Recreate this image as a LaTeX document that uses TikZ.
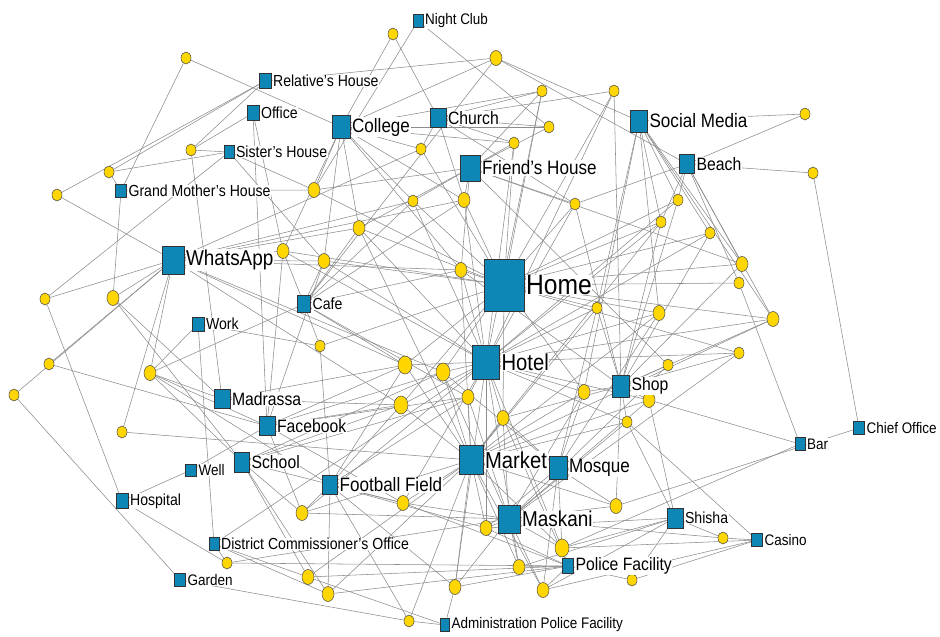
\documentclass[tikz,border=0pt]{standalone}
\usepackage{fontspec}
\setmainfont{Liberation Sans}[FakeStretch=0.88]
\usetikzlibrary{shapes.geometric,backgrounds}
\definecolor{placeblue}{RGB}{14,134,182}
\definecolor{persyellow}{RGB}{255,214,0}
\definecolor{linkgray}{RGB}{140,140,140}
\tikzset{
  place/.style 2 args = {draw=black!80, fill=placeblue, rectangle, inner sep=0pt,
                   line width=0.6pt, minimum width=#1, minimum height=#2},
  pers/.style     = {draw=black!70, fill=persyellow, ellipse, inner sep=0pt,
                   line width=0.5pt, minimum width=10pt, minimum height=12pt},
  pers big/.style  = {pers, minimum width=12pt, minimum height=15pt},
  pers huge/.style = {pers, minimum width=14pt, minimum height=18pt},
  link/.style     = {draw=linkgray, line width=0.55pt},
  lbl/.style      = {fill=white, inner sep=0.6pt, text=black},
  lbl huge/.style = {lbl, font=\fontsize{28}{30}\selectfont},
  lbl xl/.style   = {lbl, font=\fontsize{23}{25}\selectfont},
  lbl l/.style    = {lbl, font=\fontsize{21.5}{23}\selectfont},
  lbl ml/.style   = {lbl, font=\fontsize{19.4}{21}\selectfont},
  lbl m/.style    = {lbl, font=\fontsize{17.9}{19}\selectfont},
  lbl s/.style    = {lbl, font=\fontsize{16}{17}\selectfont},
  lbl xs/.style   = {lbl, font=\fontsize{15.3}{16}\selectfont}
}

\begin{document}
\begin{tikzpicture}[x=1pt, y=-1pt, label distance=1pt]
\useasboundingbox (0,0) rectangle (940,637);

% the persons (yellow)
\node[pers] (p1) at (186,58) {};
\node[pers] (p2) at (191,150) {};
\node[pers] (p3) at (109,172) {};
\node[pers] (p4) at (57,195) {};
\node[pers big] (p5) at (314,190) {};
\node[pers] (p6) at (393,34) {};
\node[pers big] (p7) at (496,58) {};
\node[pers] (p8) at (542,91) {};
\node[pers] (p9) at (614,91) {};
\node[pers] (p10) at (549,127) {};
\node[pers] (p11) at (514,143) {};
\node[pers] (p12) at (421,149) {};
\node[pers] (p13) at (413,201) {};
\node[pers big] (p14) at (464,200) {};
\node[pers] (p15) at (575,204) {};
\node[pers] (p16) at (805,114) {};
\node[pers] (p17) at (813,173) {};
\node[pers] (p18) at (678,200) {};
\node[pers big] (p19) at (283,251) {};
\node[pers] (p20) at (45,299) {};
\node[pers big] (p21) at (113,298) {};
\node[pers] (p22) at (49,364) {};
\node[pers] (p23) at (14,395) {};
\node[pers big] (p24) at (150,373) {};
\node[pers] (p25) at (320,346) {};
\node[pers big] (p26) at (359,228) {};
\node[pers big] (p27) at (324,261) {};
\node[pers big] (p28) at (461,270) {};
\node[pers] (p29) at (597,308) {};
\node[pers huge] (p30) at (405,365) {};
\node[pers huge] (p31) at (443,372) {};
\node[pers big] (p32) at (468,397) {};
\node[pers huge] (p33) at (401,405) {};
\node[pers big] (p34) at (503,418) {};
\node[pers big] (p35) at (584,392) {};
\node[pers] (p36) at (661,222) {};
\node[pers] (p37) at (710,233) {};
\node[pers big] (p38) at (742,264) {};
\node[pers] (p39) at (739,283) {};
\node[pers big] (p40) at (773,319) {};
\node[pers big] (p41) at (659,313) {};
\node[pers] (p42) at (739,353) {};
\node[pers] (p43) at (668,365) {};
\node[pers big] (p44) at (649,400) {};
\node[pers] (p45) at (627,422) {};
\node[pers] (p46) at (122,432) {};
\node[pers big] (p47) at (302,513) {};
\node[pers] (p48) at (227,563) {};
\node[pers big] (p49) at (308,577) {};
\node[pers big] (p50) at (403,503) {};
\node[pers big] (p51) at (486,528) {};
\node[pers huge] (p52) at (562,548) {};
\node[pers big] (p53) at (519,567) {};
\node[pers big] (p54) at (616,506) {};
\node[pers big] (p55) at (328,594) {};
\node[pers big] (p56) at (455,587) {};
\node[pers big] (p57) at (543,590) {};
\node[pers] (p58) at (409,621) {};
\node[pers] (p59) at (723,538) {};
\node[pers] (p60) at (632,580) {};

% the places (blue), labels on the right
\node[place={10pt}{13pt}, label={[lbl xs]right:Night Club}] (night) at (418,21) {};
\node[place={12pt}{15pt}, label={[lbl s]right:Relative's House}] (relative) at (265,81) {};
\node[place={12pt}{15pt}, label={[lbl s]right:Office}] (office) at (253,113) {};
\node[place={10pt}{13pt}, label={[lbl s]right:Sister's House}] (sister) at (229,152) {};
\node[place={11pt}{13pt}, label={[lbl s]right:Grand Mother's House}] (grandma) at (121,191) {};
\node[place={18pt}{23pt}, label={[lbl ml]right:College}] (college) at (341,127) {};
\node[place={16pt}{19pt}, label={[lbl m]right:Church}] (church) at (438,118) {};
\node[place={20pt}{26pt}, label={[lbl ml]right:Friend's House}] (friends) at (470,168) {};
\node[place={17pt}{22pt}, label={[lbl ml]right:Social Media}] (social) at (639,121) {};
\node[place={15pt}{19pt}, label={[lbl m]right:Beach}] (beach) at (687,164) {};
\node[place={22pt}{28pt}, label={[lbl l]right:WhatsApp}] (whatsapp) at (173,260) {};
\node[place={40pt}{52pt}, label={[lbl huge]right:Home}] (home) at (504,285) {};
\node[place={13pt}{17pt}, label={[lbl s]right:Cafe}] (cafe) at (304,304) {};
\node[place={12pt}{14pt}, label={[lbl s]right:Work}] (work) at (198,324) {};
\node[place={27pt}{34pt}, label={[lbl xl]right:Hotel}] (hotel) at (486,362) {};
\node[place={17pt}{22pt}, label={[lbl m]right:Shop}] (shop) at (621,386) {};
\node[place={16pt}{19pt}, label={[lbl m]right:Madrassa}] (madrassa) at (222,399) {};
\node[place={16pt}{19pt}, label={[lbl m]right:Facebook}] (facebook) at (267,426) {};
\node[place={15pt}{20pt}, label={[lbl m]right:School}] (school) at (242,462) {};
\node[place={11pt}{12pt}, label={[lbl xs]right:Well}] (well) at (191,470) {};
\node[place={12pt}{15pt}, label={[lbl s]right:Hospital}] (hospital) at (122,501) {};
\node[place={24pt}{29pt}, label={[lbl xl]right:Market}] (market) at (471,460) {};
\node[place={18pt}{23pt}, label={[lbl ml]right:Mosque}] (mosque) at (558,468) {};
\node[place={15pt}{19pt}, label={[lbl ml]right:Football Field}] (football) at (330,485) {};
\node[place={22pt}{28pt}, label={[lbl l]right:Maskani}] (maskani) at (509,519) {};
\node[place={16pt}{20pt}, label={[lbl s]right:Shisha}] (shisha) at (675,518) {};
\node[place={11pt}{13pt}, label={[lbl xs]right:Casino}] (casino) at (757,540) {};
\node[place={11pt}{15pt}, label={[lbl m]right:Police Facility}] (police) at (568,566) {};
\node[place={10pt}{13pt}, label={[lbl s]right:District Commissioner's Office}] (district) at (214,544) {};
\node[place={11pt}{13pt}, label={[lbl xs]right:Garden}] (garden) at (180,580) {};
\node[place={9pt}{13pt}, label={[lbl xs]right:Administration Police Facility}] (admin) at (445,625) {};
\node[place={10pt}{13pt}, label={[lbl xs]right:Bar}] (bar) at (800,444) {};
\node[place={11pt}{13pt}, label={[lbl xs]right:Chief Office}] (chief) at (859,428) {};

% ties from every person to the places it goes to
\begin{scope}[on background layer]
\foreach \t in {grandma,college} \draw[link] (p1) -- (\t);
\foreach \t in {relative,sister,madrassa,office} \draw[link] (p2) -- (\t);
\foreach \t in {relative,sister,grandma} \draw[link] (p3) -- (\t);
\foreach \t in {relative,whatsapp} \draw[link] (p4) -- (\t);
\foreach \t in {grandma,sister,college,home,friends,night} \draw[link] (p5) -- (\t);
\foreach \t in {college,church} \draw[link] (p6) -- (\t);
\foreach \t in {relative,college,cafe,beach,social} \draw[link] (p7) -- (\t);
\foreach \t in {church,friends,home,college,hotel} \draw[link] (p8) -- (\t);
\foreach \t in {church,shop,home,hotel} \draw[link] (p9) -- (\t);
\foreach \t in {church,college,friends,night} \draw[link] (p10) -- (\t);
\foreach \t in {college,church,friends,home,hotel} \draw[link] (p11) -- (\t);
\foreach \t in {church,college,home,whatsapp} \draw[link] (p12) -- (\t);
\foreach \t in {college,friends,home,whatsapp,hotel,cafe} \draw[link] (p13) -- (\t);
\foreach \t in {friends,home,college,church,whatsapp,hotel,cafe} \draw[link] (p14) -- (\t);
\foreach \t in {friends,church,home,beach,hotel,shop} \draw[link] (p15) -- (\t);
\foreach \t in {social,beach} \draw[link] (p16) -- (\t);
\foreach \t in {beach,chief} \draw[link] (p17) -- (\t);
\foreach \t in {beach,social,home,shop,hotel} \draw[link] (p18) -- (\t);
\foreach \t in {office,whatsapp,home,cafe,hotel,college,facebook} \draw[link] (p19) -- (\t);
\foreach \t in {whatsapp,sister,hospital} \draw[link] (p20) -- (\t);
\foreach \t in {grandma,whatsapp,school,madrassa} \draw[link] (p21) -- (\t);
\foreach \t in {whatsapp,facebook} \draw[link] (p22) -- (\t);
\foreach \t in {whatsapp,garden} \draw[link] (p23) -- (\t);
\foreach \t in {whatsapp,work,cafe,facebook,school,football,madrassa} \draw[link] (p24) -- (\t);
\foreach \t in {work,cafe,football,home} \draw[link] (p25) -- (\t);
\foreach \t in {college,home,hotel,whatsapp,friends,cafe,market} \draw[link] (p26) -- (\t);
\foreach \t in {whatsapp,home,college,hotel,sister,cafe,facebook} \draw[link] (p27) -- (\t);
\foreach \t in {home,friends,college,whatsapp,hotel,cafe,market,shop} \draw[link] (p28) -- (\t);
\foreach \t in {home,social,shop,hotel,market,mosque} \draw[link] (p29) -- (\t);
\foreach \t in {hotel,home,cafe,facebook,madrassa,market,whatsapp,football} \draw[link] (p30) -- (\t);
\foreach \t in {hotel,home,whatsapp,facebook,market,mosque,school,maskani} \draw[link] (p31) -- (\t);
\foreach \t in {hotel,market,cafe,school,facebook,football,maskani} \draw[link] (p32) -- (\t);
\foreach \t in {hotel,facebook,madrassa,market,football,home,school,whatsapp} \draw[link] (p33) -- (\t);
\foreach \t in {hotel,market,home,maskani,shop,mosque,police} \draw[link] (p34) -- (\t);
\foreach \t in {hotel,shop,home,mosque,market,maskani,social} \draw[link] (p35) -- (\t);
\foreach \t in {social,home,shop,beach,hotel,market} \draw[link] (p36) -- (\t);
\foreach \t in {home,social,shop,hotel} \draw[link] (p37) -- (\t);
\foreach \t in {beach,social,friends,shop,home} \draw[link] (p38) -- (\t);
\foreach \t in {home,bar,beach} \draw[link] (p39) -- (\t);
\foreach \t in {beach,shop,market,social,home,hotel} \draw[link] (p40) -- (\t);
\foreach \t in {social,home,mosque,hotel,market} \draw[link] (p41) -- (\t);
\foreach \t in {home,shop,hotel,maskani} \draw[link] (p42) -- (\t);
\foreach \t in {friends,shop,maskani} \draw[link] (p43) -- (\t);
\foreach \t in {shop,bar,hotel,shisha,maskani,market} \draw[link] (p44) -- (\t);
\foreach \t in {shisha,casino,hotel,market,shop,maskani} \draw[link] (p45) -- (\t);
\foreach \t in {whatsapp,market} \draw[link] (p46) -- (\t);
\foreach \t in {school,market,maskani,facebook,football,hotel} \draw[link] (p47) -- (\t);
\foreach \t in {maskani,police,district,hospital} \draw[link] (p48) -- (\t);
\foreach \t in {district,market,police,school,admin} \draw[link] (p49) -- (\t);
\foreach \t in {football,market,facebook,maskani,hotel,school,police} \draw[link] (p50) -- (\t);
\foreach \t in {maskani,market,hotel,football,shisha,mosque,police} \draw[link] (p51) -- (\t);
\foreach \t in {maskani,bar,shisha,police,market,hotel,mosque,casino} \draw[link] (p52) -- (\t);
\foreach \t in {maskani,market,police,shisha,hotel} \draw[link] (p53) -- (\t);
\foreach \t in {mosque,market,maskani,chief,shop} \draw[link] (p54) -- (\t);
\foreach \t in {district,market,football,police,school} \draw[link] (p55) -- (\t);
\foreach \t in {market,maskani,police,football,hotel,admin} \draw[link] (p56) -- (\t);
\foreach \t in {maskani,market,police,shisha,mosque,casino} \draw[link] (p57) -- (\t);
\foreach \t in {garden,admin,market,football} \draw[link] (p58) -- (\t);
\foreach \t in {maskani,shisha,casino} \draw[link] (p59) -- (\t);
\foreach \t in {police,shisha,casino} \draw[link] (p60) -- (\t);
% a few ties between places
\draw[link] (well) -- (hospital);
\draw[link] (well) -- (facebook);
\draw[link] (district) -- (work);
\draw[link] (district) -- (hotel);
\draw[link] (office) -- (facebook);
\end{scope}
\end{tikzpicture}
\end{document}
